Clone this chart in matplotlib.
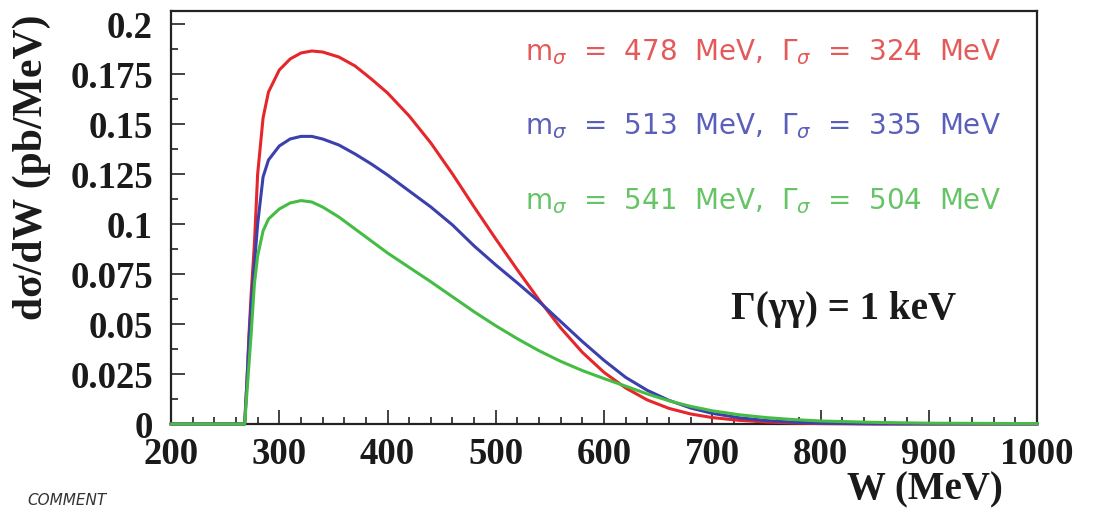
import matplotlib
matplotlib.use('Agg')
import matplotlib.pyplot as plt
from matplotlib.ticker import MultipleLocator, FuncFormatter

plt.rcParams['mathtext.fontset'] = 'dejavusans'

# W in MeV, dsigma/dW in pb/MeV
w = [200, 268, 270, 272, 274, 277, 280, 285, 290, 300, 310, 320, 330, 340, 355,
     370, 385, 400, 420, 440, 460, 480, 500, 520, 540, 560, 580, 600, 620, 640,
     660, 680, 700, 725, 750, 775, 800, 850, 900, 1000]

red = [0, 0, 0.02, 0.045, 0.065, 0.09, 0.125, 0.153, 0.166, 0.177, 0.1825, 0.1855,
       0.1865, 0.186, 0.1835, 0.179, 0.1725, 0.1655, 0.154, 0.1405, 0.125, 0.1085,
       0.0925, 0.077, 0.062, 0.048, 0.0358, 0.0258, 0.018, 0.012, 0.0078, 0.005,
       0.0032, 0.0018, 0.001, 0.0005, 0.0002, 0, 0, 0]

blue = [0, 0, 0.02, 0.042, 0.06, 0.08, 0.1, 0.1235, 0.132, 0.139, 0.1425, 0.1438,
        0.1438, 0.1425, 0.1395, 0.135, 0.13, 0.1245, 0.1165, 0.1085, 0.0995, 0.089,
        0.0795, 0.0705, 0.0612, 0.0512, 0.0412, 0.0318, 0.0233, 0.0168, 0.0118,
        0.008, 0.0053, 0.0031, 0.0017, 0.0009, 0.0004, 0.0001, 0, 0]

green = [0, 0, 0.015, 0.03, 0.045, 0.07, 0.084, 0.0965, 0.1025, 0.1075, 0.1105,
         0.1117, 0.111, 0.1085, 0.1035, 0.0975, 0.0915, 0.0855, 0.0783, 0.0711,
         0.0636, 0.0561, 0.0491, 0.0426, 0.0366, 0.0313, 0.0267, 0.0227, 0.0189,
         0.0150, 0.0116, 0.0088, 0.0066, 0.0046, 0.0032, 0.0022, 0.0015, 0.0008,
         0.0004, 0.0002]

labels = [r'm$_\sigma$  =  478  MeV,  Γ$_\sigma$  =  324  MeV',
          r'm$_\sigma$  =  513  MeV,  Γ$_\sigma$  =  335  MeV',
          r'm$_\sigma$  =  541  MeV,  Γ$_\sigma$  =  504  MeV']
line_colors = ['#e5262a', '#3b40ad', '#45bd45']
text_colors = ['#e45a5a', '#5a5fba', '#66c466']

fig = plt.figure(figsize=(10.93, 5.10), dpi=100)
ax = fig.add_axes([0.1565, 0.1667, 0.7923, 0.8098])

for ys, c in zip([red, blue, green], line_colors):
    ax.plot(w, ys, color=c, lw=2.2, clip_on=False, zorder=3)

ax.set_xlim(200, 1000)
ax.set_ylim(0, 0.2065)

serif = 'Liberation Serif'
ax.xaxis.set_major_locator(MultipleLocator(100))
ax.xaxis.set_minor_locator(MultipleLocator(20))
ax.yaxis.set_major_locator(MultipleLocator(0.025))
ax.yaxis.set_minor_locator(MultipleLocator(0.0125))
ax.yaxis.set_major_formatter(FuncFormatter(lambda v, p: '%g' % round(v, 4)))

ax.tick_params(which='both', direction='in', width=1.2, colors='#222222')
ax.tick_params(which='major', length=10)
ax.tick_params(which='minor', length=5)
ax.tick_params(axis='y', which='major', pad=13)
ax.tick_params(axis='x', which='major', pad=9)
for lab in ax.get_xticklabels() + ax.get_yticklabels():
    lab.set_fontfamily(serif)
    lab.set_fontweight('bold')
    lab.set_fontsize(26.5)
    lab.set_color('#1a1a1a')

for s in ax.spines.values():
    s.set_linewidth(1.6)
    s.set_color('#222222')

ax.set_ylabel('dσ/dW (pb/MeV)', family=serif, weight='bold', fontsize=30,
              loc='top', color='#1a1a1a')
ax.yaxis.set_label_coords(-0.139, 0.993)
ax.set_xlabel('W (MeV)', family=serif, weight='bold', fontsize=28,
              loc='right', color='#1a1a1a')
ax.xaxis.set_label_coords(0.961, -0.112)

for i, (lab, c) in enumerate(zip(labels, text_colors)):
    ax.text(527, 0.1865 - i * 0.0372, lab, color=c, fontsize=20,
            family='DejaVu Sans', va='center', ha='left')

ax.text(821, 0.0575, 'Γ(γγ) = 1 keV', family=serif, weight='bold', fontsize=28,
        ha='center', va='center', color='#1a1a1a')

fig.text(27 / 1093, 1 - 493 / 510, 'COMMENT', family='DejaVu Sans',
         style='italic', fontsize=11, va='top', color='#333333')

fig.savefig('out.png', dpi=100)
